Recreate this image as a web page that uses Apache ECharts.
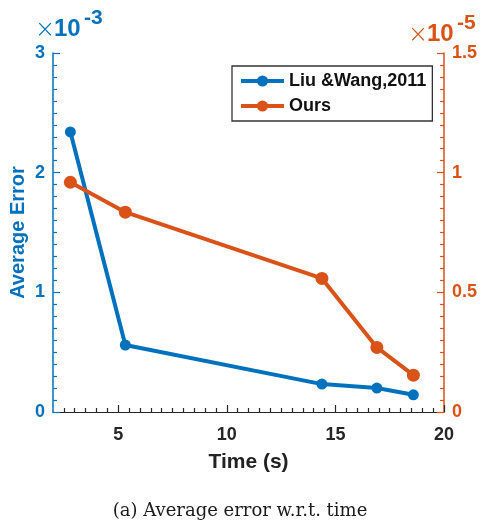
<!DOCTYPE html>
<html>
<head>
<meta charset="utf-8">
<script src="https://cdn.jsdelivr.net/npm/echarts@6.0.0/dist/echarts.min.js"></script>
<style>
  html, body { margin: 0; padding: 0; background: #fff; }
  #chart { width: 480px; height: 522px; }
</style>
</head>
<body>
<div id="chart"></div>
<script>
// data
const times = [2.8, 5.33, 14.38, 16.91, 18.59];
const liuErr = [2.34, 0.56, 0.233, 0.2, 0.144];   // x 1e-3
const oursErr = [0.96, 0.835, 0.558, 0.27, 0.154]; // x 1e-5
const seriesNames = ['Liu &Wang,2011', 'Ours'];
const xTicks = [5, 10, 15, 20];

// minor tick positions (like matlab's minor ticks)
function minorList(from, to, step, major) {
  const out = [];
  const n = Math.round((to - from) / step);
  for (let i = 1; i < n; i++) {
    const v = Math.round((from + i * step) * 1000) / 1000;
    if (Math.abs(v / major - Math.round(v / major)) > 1e-6) out.push(v);
  }
  return out;
}
const xMinorTicks = minorList(2, 20, 0.5, 5);
const yLeftMinor = minorList(0, 3, 0.1, 1);
const yRightMinor = minorList(0, 1.5, 0.05, 0.5);

const blue = '#0072BD';
const orange = '#D95319';
const font = '"Liberation Sans", Arial, sans-serif';

var myChart = echarts.init(document.getElementById('chart'));

function minorAxis(min, max, pos, values, color) {
  return {
    type: 'value',
    min: min,
    max: max,
    position: pos,
    axisLine: { show: false, onZero: false },
    axisTick: { show: true, inside: true, length: 4, customValues: values, lineStyle: { color: color, width: 1.2 } },
    axisLabel: { show: false },
    splitLine: { show: false }
  };
}

const option = {
  animation: false,
  grid: {
    left: 53,
    right: 36,
    top: 53,
    bottom: 110,
    outerBoundsMode: 'none'
  },
  legend: {
    orient: 'vertical',
    left: 232,
    top: 66,
    padding: [6, 6, 6, 7],
    itemGap: 7,
    itemWidth: 43,
    itemHeight: 14,
    borderColor: '#333',
    borderWidth: 1.3,
    backgroundColor: '#fff',
    lineStyle: { width: 4 },
    textStyle: { fontFamily: font, fontWeight: 'bold', fontSize: 18, color: '#111' },
    data: seriesNames
  },
  xAxis: [
    {
      type: 'value',
      min: 2,
      max: 20,
      name: 'Time (s)',
      nameLocation: 'middle',
      nameGap: 40,
      nameMoveOverlap: false,
      nameTextStyle: { fontFamily: font, fontWeight: 'bold', fontSize: 21, color: '#222' },
      axisLine: { onZero: false, lineStyle: { color: '#262626', width: 1.2 } },
      axisTick: { inside: true, length: 7, customValues: xTicks, lineStyle: { color: '#262626', width: 1.2 } },
      axisLabel: {
        customValues: xTicks,
        margin: 14,
        fontFamily: font, fontWeight: 'bold', fontSize: 18, color: '#262626'
      },
      splitLine: { show: false }
    },
    minorAxis(2, 20, 'bottom', xMinorTicks, '#262626')
  ],
  yAxis: [
    {
      type: 'value',
      position: 'left',
      min: 0,
      max: 3,
      interval: 1,
      name: 'Average Error',
      nameLocation: 'middle',
      nameGap: 25,
      nameMoveOverlap: false,
      nameTextStyle: { fontFamily: font, fontWeight: 'bold', fontSize: 20, color: blue },
      axisLine: { show: true, onZero: false, lineStyle: { color: blue, width: 1.5 } },
      axisTick: { show: true, inside: true, length: 7, lineStyle: { color: blue, width: 1.2 } },
      axisLabel: { margin: 8, fontFamily: font, fontWeight: 'bold', fontSize: 18, color: blue },
      splitLine: { show: false }
    },
    {
      type: 'value',
      position: 'right',
      min: 0,
      max: 1.5,
      interval: 0.5,
      axisLine: { show: true, onZero: false, lineStyle: { color: orange, width: 1.5 } },
      axisTick: { show: true, inside: true, length: 7, lineStyle: { color: orange, width: 1.2 } },
      axisLabel: { margin: 8, fontFamily: font, fontWeight: 'bold', fontSize: 18, color: orange },
      splitLine: { show: false }
    },
    minorAxis(0, 3, 'left', yLeftMinor, blue),
    minorAxis(0, 1.5, 'right', yRightMinor, orange)
  ],
  series: [
    {
      name: seriesNames[0],
      type: 'line',
      yAxisIndex: 0,
      data: times.map((t, i) => [t, liuErr[i]]),
      symbol: 'circle',
      symbolSize: 11,
      lineStyle: { color: blue, width: 4 },
      itemStyle: { color: blue }
    },
    {
      name: seriesNames[1],
      type: 'line',
      yAxisIndex: 1,
      data: times.map((t, i) => [t, oursErr[i]]),
      symbol: 'circle',
      symbolSize: 13,
      lineStyle: { color: orange, width: 4 },
      itemStyle: { color: orange }
    }
  ],
  graphic: [
    // left exponent  x10^-3
    { type: 'text', left: 35, top: 19, style: { text: '\u00d7', fontFamily: '"DejaVu Sans", sans-serif', fontWeight: 200, fontSize: 24, fill: blue } },
    { type: 'text', left: 54, top: 17, style: { text: '10', fontFamily: font, fontWeight: 'bold', fontSize: 24, fill: blue } },
    { type: 'text', left: 84, top: 8, style: { text: '-3', fontFamily: font, fontWeight: 'bold', fontSize: 21, fill: blue } },
    // right exponent  x10^-5
    { type: 'text', left: 408, top: 24, style: { text: '\u00d7', fontFamily: '"DejaVu Sans", sans-serif', fontWeight: 200, fontSize: 24, fill: orange } },
    { type: 'text', left: 427, top: 22, style: { text: '10', fontFamily: font, fontWeight: 'bold', fontSize: 24, fill: orange } },
    { type: 'text', left: 457, top: 13, style: { text: '-5', fontFamily: font, fontWeight: 'bold', fontSize: 21, fill: orange } },
    // caption
    {
      type: 'text',
      left: 'center',
      top: 502,
      style: { text: '(a) Average error w.r.t. time', fontFamily: '"DejaVu Serif", serif', fontSize: 18, fill: '#1a1a1a' }
    }
  ]
};

myChart.setOption(option);
</script>
</body>
</html>
